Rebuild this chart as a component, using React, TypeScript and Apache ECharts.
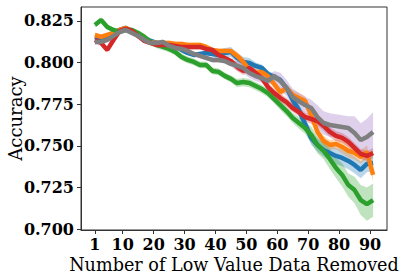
import React, { useEffect, useRef } from "react";
import * as echarts from "echarts";

// Number of low value data removed (x positions of the samples)
const X = [1, 3, 5, 7, 9, 11, 13, 15, 17, 19, 21, 23, 25, 27, 29, 31, 33, 35, 37, 39, 41, 43, 45,
  47, 49, 51, 53, 55, 57, 59, 61, 63, 65, 67, 69, 71, 73, 75, 77, 79, 81, 83, 85, 87, 89, 91];

const blue = [0.8136, 0.8148, 0.8160, 0.8178, 0.8196, 0.8208, 0.8190, 0.8172, 0.8148, 0.8130, 0.8118, 0.8112,
  0.8112, 0.8100, 0.8076, 0.8058, 0.8046, 0.8052, 0.8058, 0.8052, 0.8046, 0.8058, 0.8064,
  0.8028, 0.8004, 0.7998, 0.7980, 0.7968, 0.7931, 0.7913, 0.7895, 0.7847, 0.7775, 0.7715, 0.7631,
  0.7547, 0.7505, 0.7475, 0.7457, 0.7439, 0.7427, 0.7409, 0.7385, 0.7355, 0.7391, 0.7397];
const orange = [0.8166, 0.8154, 0.8166, 0.8178, 0.8196, 0.8208, 0.8190, 0.8160, 0.8136, 0.8124, 0.8118, 0.8118,
  0.8118, 0.8112, 0.8112, 0.8106, 0.8106, 0.8106, 0.8094, 0.8076, 0.8070, 0.8070, 0.8070,
  0.8040, 0.8004, 0.7956, 0.7937, 0.7943, 0.7919, 0.7871, 0.7823, 0.7847, 0.7805, 0.7787, 0.7769,
  0.7685, 0.7583, 0.7529, 0.7505, 0.7511, 0.7493, 0.7469, 0.7457, 0.7433, 0.7463, 0.7325];
const green = [0.8226, 0.8256, 0.8214, 0.8196, 0.8184, 0.8196, 0.8196, 0.8178, 0.8154, 0.8124, 0.8106, 0.8094,
  0.8082, 0.8064, 0.8034, 0.8016, 0.8004, 0.7986, 0.7986, 0.7950, 0.7944, 0.7920, 0.7902,
  0.7877, 0.7883, 0.7877, 0.7859, 0.7841, 0.7817, 0.7781, 0.7745, 0.7709, 0.7667, 0.7637, 0.7607,
  0.7565, 0.7505, 0.7469, 0.7421, 0.7367, 0.7325, 0.7264, 0.7234, 0.7174, 0.7150, 0.7174];
const red = [0.8136, 0.8118, 0.8076, 0.8136, 0.8190, 0.8202, 0.8190, 0.8160, 0.8130, 0.8118, 0.8106, 0.8106,
  0.8106, 0.8100, 0.8094, 0.8094, 0.8094, 0.8094, 0.8082, 0.8076, 0.8046, 0.8028, 0.8010,
  0.7974, 0.7950, 0.7968, 0.7938, 0.7907, 0.7853, 0.7817, 0.7787, 0.7763, 0.7727, 0.7703, 0.7673,
  0.7661, 0.7649, 0.7619, 0.7583, 0.7559, 0.7547, 0.7523, 0.7487, 0.7451, 0.7439, 0.7457];
const gray = [0.8124, 0.8124, 0.8136, 0.8160, 0.8184, 0.8196, 0.8178, 0.8160, 0.8136, 0.8118, 0.8118, 0.8124,
  0.8100, 0.8088, 0.8082, 0.8070, 0.8052, 0.8040, 0.8028, 0.8016, 0.8016, 0.8010, 0.7992,
  0.7980, 0.7968, 0.7938, 0.7919, 0.7907, 0.7889, 0.7919, 0.7889, 0.7847, 0.7793, 0.7769, 0.7745,
  0.7727, 0.7673, 0.7637, 0.7625, 0.7619, 0.7613, 0.7607, 0.7577, 0.7535, 0.7553, 0.7583];

// Spread (half-width of shaded band)
const blueStd = [0.0015, 0.0015, 0.0015, 0.0015, 0.0015, 0.0015, 0.0015, 0.0015, 0.0015, 0.0015, 0.0015, 0.0015,
  0.0015, 0.0015, 0.0015, 0.0015, 0.0015, 0.0015, 0.0015, 0.0015, 0.003, 0.003, 0.003,
  0.003, 0.003, 0.003, 0.002, 0.002, 0.002, 0.002, 0.002, 0.002, 0.004, 0.004, 0.004,
  0.004, 0.004, 0.004, 0.005, 0.005, 0.005, 0.005, 0.005, 0.005, 0.005, 0.005];
const orangeStd = [0.0015, 0.0015, 0.0015, 0.0015, 0.0015, 0.0015, 0.0015, 0.0015, 0.0015, 0.0015, 0.0015, 0.0015,
  0.0015, 0.0015, 0.0015, 0.0015, 0.0015, 0.0015, 0.0015, 0.0015, 0.0015, 0.0015, 0.0015,
  0.0025, 0.0025, 0.0025, 0.0025, 0.0025, 0.0025, 0.0025, 0.0025, 0.0025, 0.003, 0.003, 0.003,
  0.003, 0.003, 0.003, 0.003, 0.003, 0.004, 0.004, 0.004, 0.004, 0.004, 0.004];
const greenStd = [0.0015, 0.0015, 0.0015, 0.0015, 0.0015, 0.0015, 0.0015, 0.0015, 0.002, 0.002, 0.002, 0.002,
  0.002, 0.002, 0.002, 0.002, 0.002, 0.002, 0.002, 0.002, 0.002, 0.002, 0.002,
  0.0025, 0.0025, 0.0025, 0.0025, 0.0025, 0.0025, 0.0025, 0.003, 0.003, 0.003, 0.0035, 0.0035,
  0.005, 0.005, 0.005, 0.006, 0.006, 0.007, 0.007, 0.008, 0.009, 0.010, 0.010];
const redStd = [0.0015, 0.0015, 0.0015, 0.0015, 0.0015, 0.0015, 0.0015, 0.0015, 0.0015, 0.0015, 0.0015, 0.0015,
  0.0015, 0.0015, 0.0015, 0.0015, 0.0015, 0.0015, 0.0015, 0.0015, 0.0015, 0.0015, 0.0015,
  0.0025, 0.0025, 0.0025, 0.0025, 0.0025, 0.0025, 0.0025, 0.0025, 0.0025, 0.0025, 0.0025, 0.0025,
  0.003, 0.003, 0.003, 0.003, 0.003, 0.003, 0.003, 0.003, 0.003, 0.003, 0.003];
const grayStd = [0.0015, 0.0015, 0.0015, 0.0015, 0.0015, 0.0015, 0.0015, 0.0015, 0.0015, 0.0015, 0.0015, 0.0015,
  0.0015, 0.0015, 0.0015, 0.0015, 0.0015, 0.0015, 0.0015, 0.0015, 0.0015, 0.0015, 0.0015,
  0.003, 0.003, 0.003, 0.003, 0.003, 0.003, 0.003, 0.005, 0.005, 0.005, 0.005, 0.005,
  0.005, 0.007, 0.007, 0.007, 0.007, 0.007, 0.007, 0.010, 0.010, 0.011, 0.012];

const xTicks = [1, 10, 20, 30, 40, 50, 60, 70, 80, 90];
const yTicks = [0.7, 0.725, 0.75, 0.775, 0.8, 0.825];

const FONT = "'DejaVu Serif', serif";

function band(name: string, mean: number[], std: number[], color: string) {
  return {
    type: "custom",
    name,
    silent: true,
    clip: true,
    data: [[X[0], mean[0]]],
    renderItem: (_p: any, api: any) => {
      const pts: number[][] = [];
      for (let i = 0; i < X.length; i++) pts.push(api.coord([X[i], mean[i] + std[i]]));
      for (let i = X.length - 1; i >= 0; i--) pts.push(api.coord([X[i], mean[i] - std[i]]));
      return { type: "polygon", shape: { points: pts }, style: { fill: color, opacity: 0.3 } };
    },
    z: 1,
  };
}

function line(name: string, mean: number[], color: string) {
  return {
    type: "line",
    name,
    data: X.map((x, i) => [x, mean[i]]),
    showSymbol: false,
    symbol: "none",
    lineStyle: { width: 4.5, color },
    itemStyle: { color },
    z: 2,
  };
}

export default function App() {
  const ref = useRef<HTMLDivElement>(null);
  useEffect(() => {
    document.body.style.margin = "0";
    const chart = echarts.init(ref.current!, undefined, { renderer: "svg" });
    chart.setOption({
      animation: false,
      grid: {
        left: 81, top: 7, right: 20, bottom: 47,
        show: true, borderColor: "#333", borderWidth: 1,
        containLabel: false,
        outerBoundsMode: "none",
      },
      xAxis: {
        type: "value",
        min: -3.5,
        max: 95.5,
        name: "Number of Low Value Data Removed",
        nameLocation: "middle",
        nameGap: 26,
        nameMoveOverlap: false,
        nameTextStyle: { fontFamily: FONT, fontSize: 17.6, color: "#000" },
        axisLine: { show: true, onZero: false, lineStyle: { color: "#333", width: 1 } },
        axisTick: { show: true, length: 4, customValues: xTicks, lineStyle: { color: "#333" } },
        axisLabel: {
          customValues: xTicks,
          fontFamily: FONT,
          fontWeight: "bold",
          fontSize: 16,
          color: "#000",
          margin: 6,
        },
        splitLine: { show: false },
      },
      yAxis: {
        type: "value",
        min: 0.6994,
        max: 0.8334,
        name: "Accuracy",
        nameLocation: "middle",
        nameGap: 57,
        nameMoveOverlap: false,
        nameTextStyle: { fontFamily: FONT, fontSize: 18, color: "#000" },
        axisLine: { show: true, onZero: false, lineStyle: { color: "#333", width: 1 } },
        axisTick: { show: true, length: 4, customValues: yTicks, lineStyle: { color: "#333" } },
        axisLabel: {
          customValues: yTicks,
          formatter: (v: number) => v.toFixed(3),
          fontFamily: FONT,
          fontWeight: "bold",
          fontSize: 16,
          color: "#000",
          margin: 7,
        },
        splitLine: { show: false },
      },
      series: [
        band("blue band", blue, blueStd, "#1f77b4"),
        line("blue", blue, "#1f77b4"),
        band("orange band", orange, orangeStd, "#ff7f0e"),
        line("orange", orange, "#ff7f0e"),
        band("green band", green, greenStd, "#2ca02c"),
        line("green", green, "#2ca02c"),
        band("red band", red, redStd, "#d62728"),
        line("red", red, "#d62728"),
        band("purple band", gray, grayStd, "#9467bd"),
        line("gray", gray, "#7f7f7f"),
      ],
    });
    return () => chart.dispose();
  }, []);
  return <div ref={ref} style={{ width: 407, height: 277 }} />;
}
